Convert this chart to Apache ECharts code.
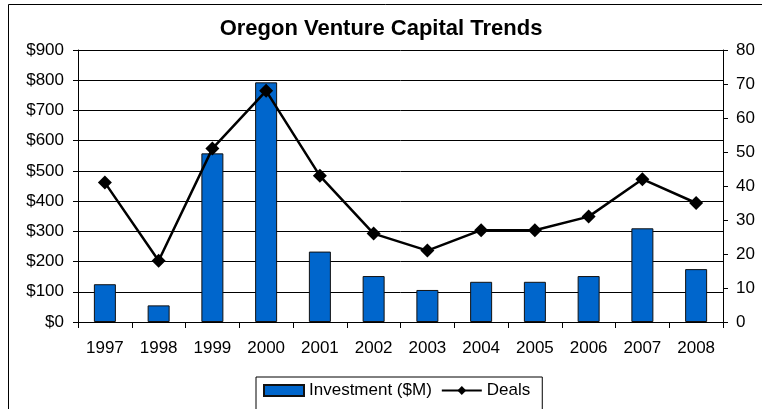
<!DOCTYPE html>
<html>
<head>
<meta charset="utf-8">
<script src="https://cdn.jsdelivr.net/npm/echarts@6/dist/echarts.min.js"></script>
<style>
  html, body { margin: 0; padding: 0; background: #fff; }
  #chart { width: 762px; height: 409px; }
</style>
</head>
<body>
<div id="chart"></div>
<script>
// values
var years = ['1997', '1998', '1999', '2000', '2001', '2002', '2003', '2004', '2005', '2006', '2007', '2008']
var investment = [125, 55, 558, 793, 233, 152, 106, 133, 133, 152, 310, 175]
var deals = [41, 18, 51, 68, 43, 26, 21, 27, 27, 31, 42, 35]

var font = "'Liberation Sans', Arial, sans-serif"

var chart = echarts.init(document.getElementById('chart'))
var options = {
  animation: false,
  textStyle: { fontFamily: font, color: '#000' },
  title: {
    text: 'Oregon Venture Capital Trends',
    left: 'center',
    top: 13,
    textStyle: { fontFamily: font, fontSize: 22, fontWeight: 'bold', color: '#000' }
  },
  graphic: [
    {
      type: 'rect',
      shape: { x: 8.5, y: 4.5, width: 800, height: 500 },
      style: { fill: 'none', stroke: '#000', lineWidth: 1 },
      silent: true
    }
  ],
  legend: {
    left: 256,
    top: 377,
    padding: [5, 12, 12, 7],
    borderColor: '#000',
    borderWidth: 1,
    itemWidth: 40,
    itemHeight: 11,
    itemGap: 9,
    textStyle: { fontFamily: font, fontSize: 17, color: '#000' },
    data: [
      { name: 'Investment ($M)', icon: 'rect' },
      { name: 'Deals' }
    ]
  },
  grid: { left: 78, right: 39, top: 50, bottom: 87 },
  xAxis: {
    type: 'category',
    data: years,
    axisLine: { lineStyle: { color: '#000', width: 1 } },
    axisTick: { show: true, length: 6, lineStyle: { color: '#000' } },
    axisLabel: { fontFamily: font, fontSize: 17, color: '#000', margin: 18 }
  },
  yAxis: [
    {
      type: 'value',
      min: 0,
      max: 900,
      interval: 100,
      axisLine: { show: true, lineStyle: { color: '#000' } },
      axisTick: { show: true, length: 5, lineStyle: { color: '#000' } },
      splitLine: { show: true, lineStyle: { color: '#000', width: 1 } },
      axisLabel: {
        fontFamily: font, fontSize: 17, color: '#000', margin: 14,
        formatter: function (v) { return '$' + v }
      }
    },
    {
      type: 'value',
      min: 0,
      max: 80,
      interval: 10,
      axisLine: { show: true, lineStyle: { color: '#000' } },
      axisTick: { show: true, length: 5, lineStyle: { color: '#000' } },
      splitLine: { show: false },
      axisLabel: { fontFamily: font, fontSize: 17, color: '#000', margin: 13 }
    }
  ],
  series: [
    {
      name: 'Investment ($M)',
      type: 'bar',
      yAxisIndex: 0,
      barWidth: 22,
      itemStyle: { color: '#0066CC', borderColor: '#111', borderWidth: 1 },
      data: investment
    },
    {
      name: 'Deals',
      type: 'line',
      yAxisIndex: 1,
      symbol: 'diamond',
      symbolSize: 14,
      lineStyle: { color: '#000', width: 2.5 },
      itemStyle: { color: '#000' },
      data: deals
    }
  ]
}
chart.setOption(options)
</script>
</body>
</html>
